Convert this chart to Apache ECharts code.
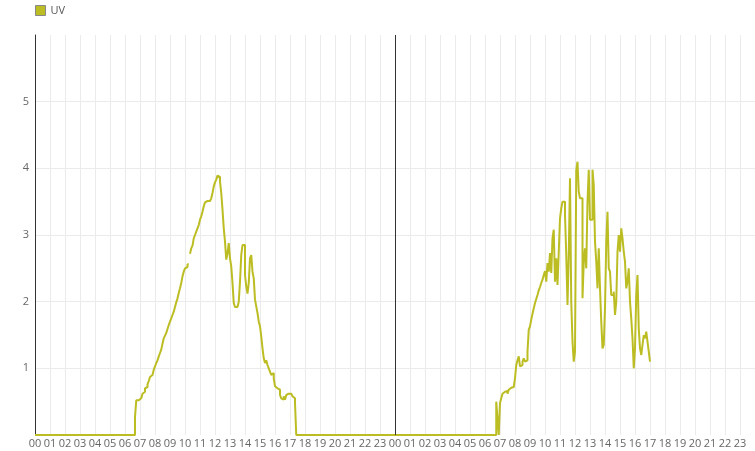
<!DOCTYPE html>
<html><head><meta charset="utf-8">
<script src="https://cdn.jsdelivr.net/npm/echarts@6/dist/echarts.min.js"></script>
<style>html,body{margin:0;padding:0;background:#fff}#c{width:755px;height:451px}</style>
</head><body><div id="c"></div><script>
const seriesName = 'UV';
const hourLabels = ['00','01','02','03','04','05','06','07','08','09','10','11','12','13','14','15','16','17','18','19','20','21','22','23'];
const yTickLabels = ['', '1', '2', '3', '4', '5', ''];
const stepMinutes = 5;
// Day 1: samples every 5 minutes from 06:40 (before that: 0)
const day1Start = '06:40';
const day1Uv = [
0.27,0.52,0.52,0.52,
0.55,0.58,0.62,0.65,0.70,0.72,0.76,0.81,0.87,0.90,0.92,0.98,
1.03,1.08,1.12,1.18,1.23,1.28,1.37,1.45,1.49,1.53,1.59,1.65,
1.70,1.75,1.80,1.85,1.92,1.99,2.05,2.13,2.20,2.28,2.38,2.45,
2.50,2.52,2.56,null,2.72,2.80,2.84,2.95,3.00,3.05,3.10,3.15,
3.23,3.28,3.35,3.43,3.49,3.51,3.51,3.51,3.52,3.55,3.63,3.73,
3.79,3.83,3.89,3.87,3.80,3.63,3.38,3.10,2.90,2.63,2.72,2.88,
2.65,2.53,2.28,1.98,1.92,1.92,1.92,2.00,2.30,2.70,2.85,2.85,
2.40,2.23,2.12,2.28,2.65,2.70,2.45,2.35,2.03,1.93,1.83,1.70,
1.63,1.48,1.30,1.15,1.08,1.12,1.05,1.00,0.95,0.90,0.93,0.85,
0.73,0.70,0.70,0.68,0.60,0.55,0.53,0.58,0.53,0.60,0.62,0.65,
0.62,0.62,0.58,0.55,0.48,0
];
// Day 2: samples every 5 minutes from 06:45 (before that: 0), data ends 17:00
const day2Start = '06:45';
const day2Uv = [
0.50,0.25,0.00,
0.48,0.55,0.62,0.65,0.68,0.66,0.62,0.68,0.71,0.71,0.72,0.75,
0.85,1.05,1.12,1.18,1.03,1.05,1.10,1.15,1.10,1.12,1.25,1.58,
1.63,1.73,1.82,1.90,1.98,2.04,2.10,2.17,2.22,2.28,2.33,2.40,
2.46,2.30,2.58,2.45,2.73,2.43,2.95,3.08,2.30,2.65,2.25,2.75,
3.25,3.40,3.50,3.50,3.30,2.70,1.95,2.70,3.85,2.00,1.40,1.10,
1.25,3.97,4.10,3.65,3.55,3.55,2.05,2.60,2.80,2.50,3.50,3.98,
3.23,3.23,3.98,3.75,2.90,2.60,2.20,2.80,2.20,1.70,1.30,1.35,
1.90,2.90,3.35,2.50,2.45,2.10,2.10,2.15,1.80,2.00,2.75,3.00,
2.75,3.10,2.95,2.75,2.60,2.20,2.30,2.50,2.00,1.75,1.45,1.00,
1.30,2.10,2.40,1.60,1.30,1.20,1.35,1.50,1.45,1.55,1.40,1.25,
1.10
];
const nightStart = [['00:00', 0]];

function toHour(t){ const p = t.split(':').map(Number); return p[0] + p[1]/60; }
const points = nightStart.map(d => [toHour(d[0]), d[1]]);
const s1 = toHour(day1Start);
day1Uv.forEach((v,i) => points.push([s1 + i*stepMinutes/60, v]));
const s2 = 24 + toHour(day2Start);
day2Uv.forEach((v,i) => points.push([s2 + i*stepMinutes/60, v]));

const chart = echarts.init(document.getElementById('c'), null, {renderer:'canvas'});
const font = '"Open Sans", "Noto Sans", sans-serif';
chart.setOption({
  animation: false,
  textStyle: { fontFamily: font },
  legend: {
    left: 30, top: 0, itemWidth: 10, itemHeight: 10, itemGap: 10,
    icon: 'rect',
    textStyle: { color: '#555', fontSize: 11, fontFamily: font },
    data: [{ name: seriesName, itemStyle: { color: '#bcbd22', borderColor: '#888', borderWidth: 1 } }]
  },
  grid: { left: 35, right: 0, top: 35, bottom: 16, containLabel: false },
  xAxis: {
    type: 'value', min: 0, max: 48, interval: 1,
    axisLine: { show: false }, axisTick: { show: false },
    splitLine: { show: true, lineStyle: { color: '#ebebeb', width: 1 } },
    axisLabel: {
      color: '#666', fontSize: 11, fontFamily: font, margin: 3,
      showMaxLabel: false,
      formatter: v => v >= 48 ? '' : hourLabels[Math.round(v) % 24]
    }
  },
  yAxis: {
    type: 'value', min: 0, max: 6, interval: 1,
    axisLine: { show: true, lineStyle: { color: '#333', width: 1 } },
    axisTick: { show: false },
    splitLine: { show: true, lineStyle: { color: ['rgba(0,0,0,0)','#ebebeb','#ebebeb','#ebebeb','#ebebeb','#ebebeb','rgba(0,0,0,0)'], width: 1 } },
    axisLabel: { color: '#666', fontSize: 11, fontFamily: font, margin: 6,
      formatter: v => yTickLabels[Math.round(v)] }
  },
  series: [{
    name: seriesName, type: 'line', step: 'end', data: points,
    showSymbol: false, symbol: 'none', connectNulls: false,
    lineStyle: { color: '#bcbd22', width: 2 },
    itemStyle: { color: '#bcbd22' },
    markLine: {
      silent: true, symbol: 'none', label: { show: false },
      lineStyle: { color: '#333', width: 1, type: 'solid' },
      data: [{ xAxis: 24 }]
    }
  }]
});
</script></body></html>
